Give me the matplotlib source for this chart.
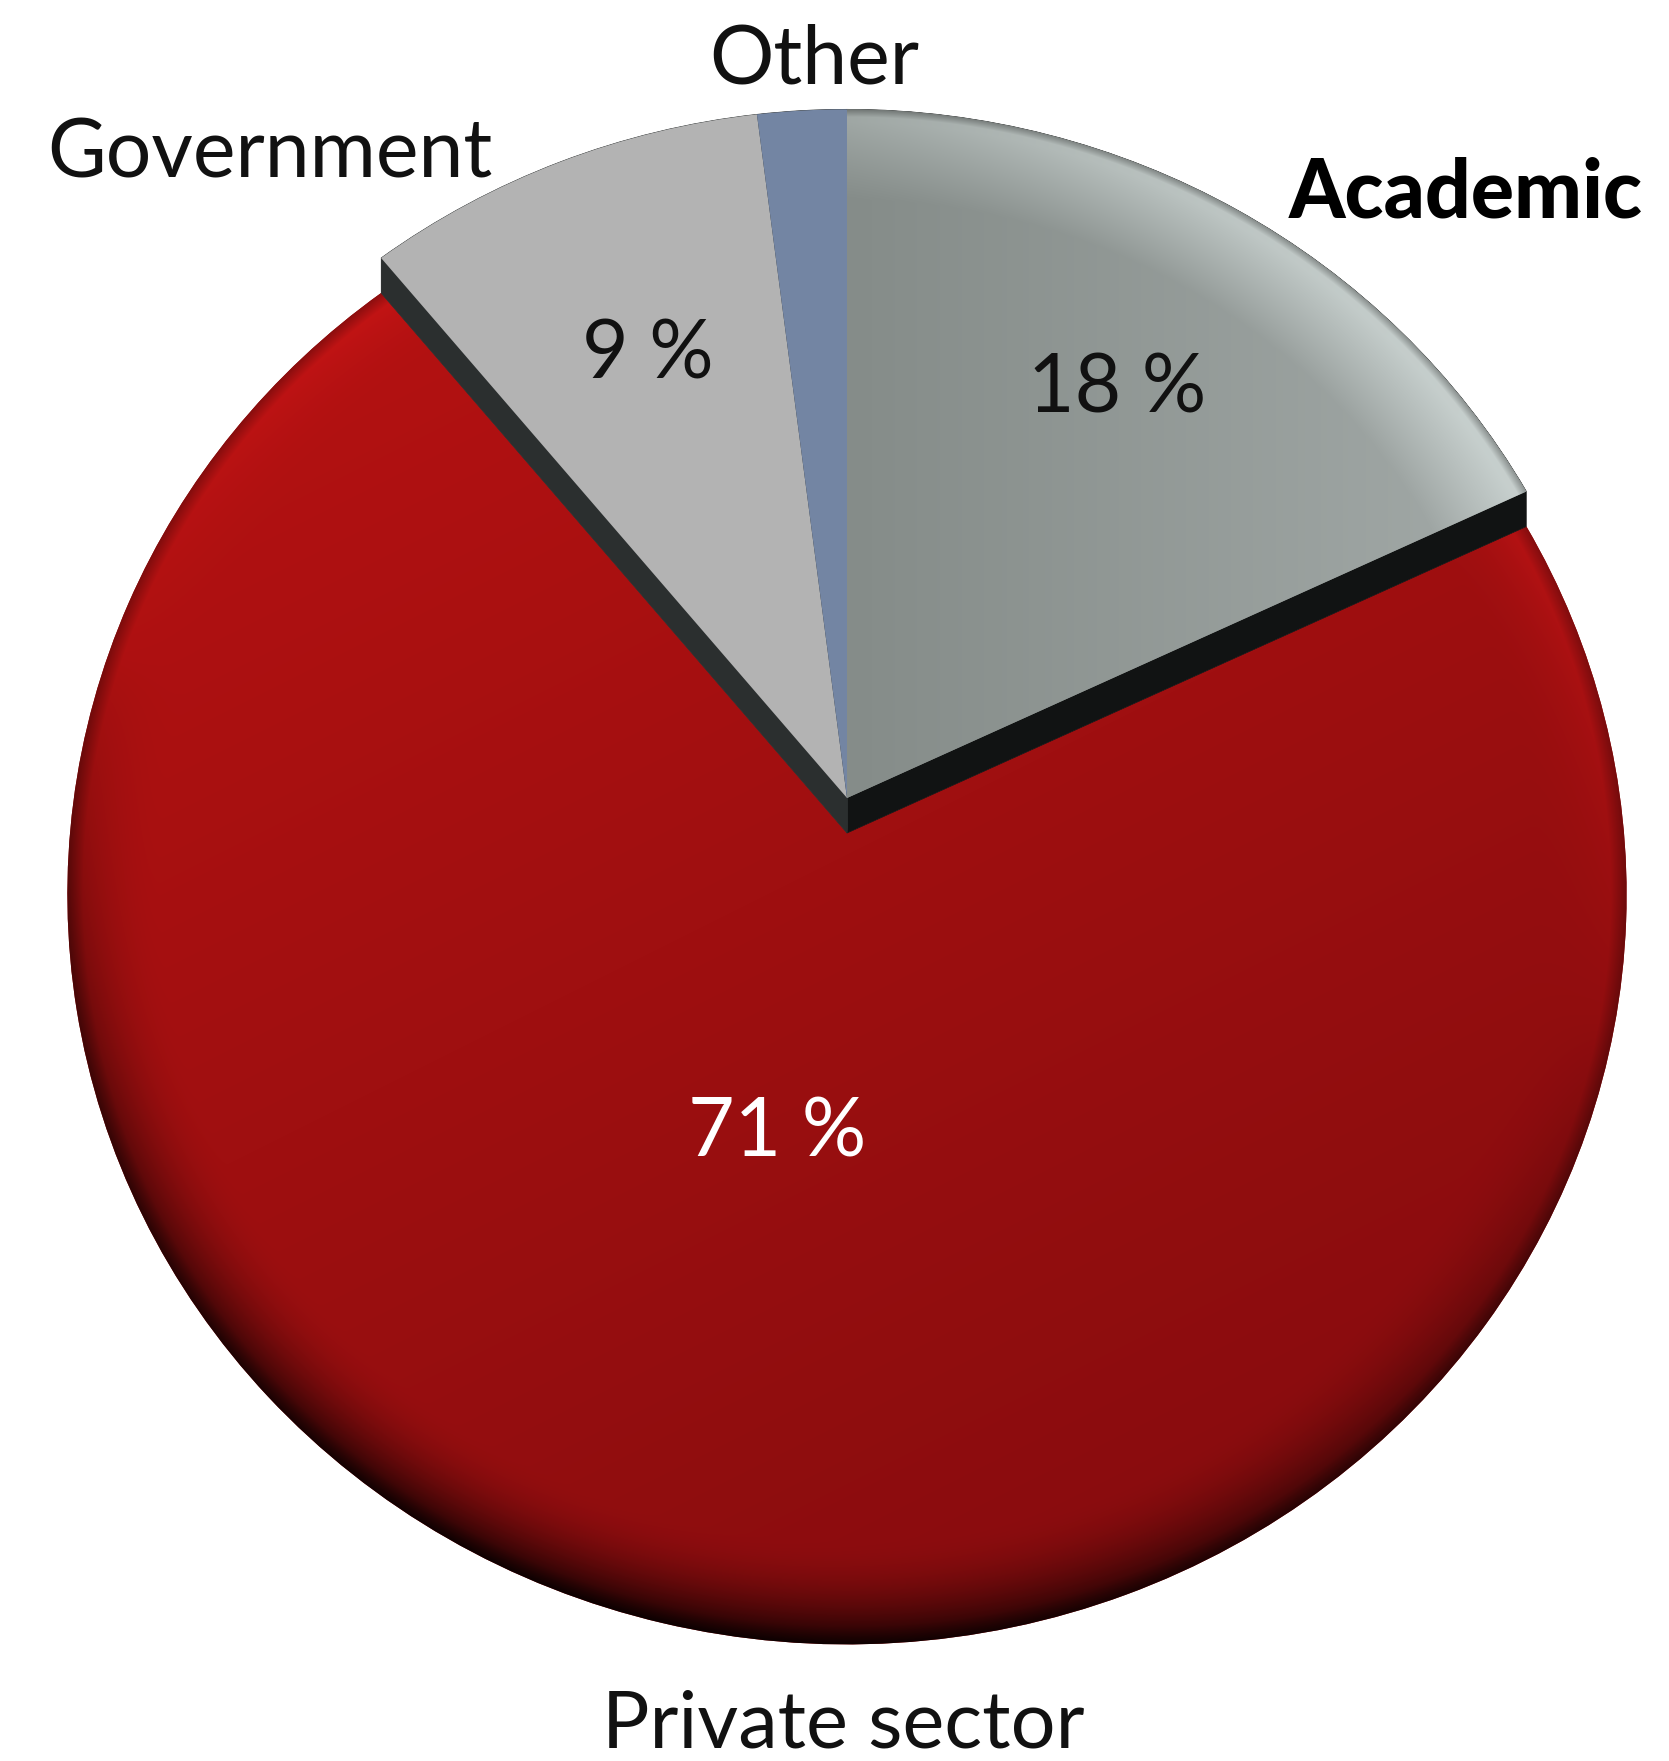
import numpy as np
import matplotlib
matplotlib.use("Agg")
import matplotlib.pyplot as plt
from matplotlib.patches import Wedge
from matplotlib.transforms import Transform
from matplotlib.colors import to_rgb

# data
categories = ["Academic", "Private sector", "Government", "Other"]
shares = [18, 71, 9, 2]
pct_labels = ["18 %", "71 %", "9 %", ""]
raised = [True, False, True, True]

W, H = 1669, 1761
CX, CY = 847, 833          # apex of the pie, in pixels
A, B, K = 777, 745, 0.0818  # perspective tilt of the disc
LIFT = 35                  # height of the raised slices


class Tilt(Transform):
    """unit disc (y up) -> pixel coords, seen a bit from below"""
    input_dims = 2
    output_dims = 2
    is_separable = False
    has_inverse = False

    def __init__(self, cx, cy):
        super().__init__()
        self.cx = cx
        self.cy = cy

    def transform_non_affine(self, xy):
        xy = np.asarray(xy, dtype=float)
        x, y = xy[:, 0], xy[:, 1]
        d = 1 + K * y
        return np.column_stack([self.cx + A * x / d, self.cy - B * y / d])


def plane_coords(cx, cy):
    u = px - cx
    v = cy - py
    y = v / (B - K * v)
    x = u * (1 + K * y) / A
    return x, y


def mix(c1, c2, t):
    c1 = np.array(to_rgb(c1))
    c2 = np.array(to_rgb(c2))
    t = np.asarray(t)[..., None]
    return c1 * (1 - t) + c2 * t


py, px = np.mgrid[0:H, 0:W] + 0.5

# slice angles, clockwise from 12 o'clock
angles = []
a = 90.0
for s in shares:
    sweep = s / sum(shares) * 360
    angles.append((a - sweep, a))
    a -= sweep

fig = plt.figure(figsize=(W / 100, H / 100), dpi=100)
ax = fig.add_axes([0, 0, 1, 1])
ax.set_autoscale_on(False)
ax.set_xlim(0, W)
ax.set_ylim(H, 0)
ax.axis("off")

face = {"Academic": "#8a918e", "Private sector": "#a00f10",
        "Government": "#b3b3b3", "Other": "#7385a3"}
side = {"Academic": "#111313", "Government": "#2b2f2f", "Other": "#2b2f2f"}

# red slice with shading
i = categories.index("Private sector")
red = Wedge((0, 0), 1, angles[i][0], angles[i][1], facecolor=face["Private sector"],
            edgecolor="none", transform=Tilt(CX, CY) + ax.transData, zorder=1)
ax.add_patch(red)
x, y = plane_coords(CX, CY)
r = np.hypot(x, y) + 1e-9
t = np.clip((px * 0.45 + py * 0.9 - 300) / 1700, 0, 1)
img = mix("#b81212", "#860c0e", t)
s = np.clip((r - 0.88) / 0.12, 0, 1) ** 2
shade = (x * 0.25 + y * 0.97) / r
light = np.clip(shade, 0, 1) * s
dark = np.clip(-shade, 0, 1) * s
img = img * (1 - light[..., None] * 0.6) + np.array(to_rgb("#ec1a1c")) * light[..., None] * 0.6
img = img * (1 - dark[..., None] * 0.88)
edge = np.clip((r - 0.98) / 0.02, 0, 1)
img = img * (1 - 0.3 * edge[..., None])
im = ax.imshow(np.clip(img, 0, 1), extent=(0, W, H, 0), origin="upper",
               interpolation="bilinear", zorder=1.1)
im.set_clip_path(red)

# side walls of the raised slices
for cat, (t1, t2), up in zip(categories, angles, raised):
    if not up:
        continue
    for d in range(0, LIFT + 1):
        ax.add_patch(Wedge((0, 0), 1, t1, t2, facecolor=side[cat], edgecolor=side[cat],
                           linewidth=0.5, transform=Tilt(CX, CY - d) + ax.transData,
                           zorder=2))

# top faces of raised slices
top = Tilt(CX, CY - LIFT) + ax.transData
xg, yg = plane_coords(CX, CY - LIFT)
rg = np.hypot(xg, yg) + 1e-9
for cat, (t1, t2), up in zip(categories, angles, raised):
    if not up:
        continue
    w = Wedge((0, 0), 1, t1, t2, facecolor=face[cat], edgecolor="none",
              transform=top, zorder=3)
    ax.add_patch(w)
    if cat == "Academic":
        g = mix("#858c89", "#a2a9a7", np.clip((px - 850) / 650, 0, 1))
        sg = np.clip((rg - 0.86) / 0.12, 0, 1)
        sh = np.clip((xg * 0.9 + yg * 0.45) / rg, 0, 1)
        hl = (sg * sh)[..., None]
        g = g * (1 - hl * 0.75) + np.array(to_rgb("#d2dbd9")) * hl * 0.75
        e = np.clip((rg - 0.988) / 0.012, 0, 1)[..., None]
        g = g * (1 - e * 0.3)
        gi = ax.imshow(np.clip(g, 0, 1), extent=(0, W, H, 0), origin="upper",
                       interpolation="bilinear", zorder=3.1)
        gi.set_clip_path(w)

# percentage labels
label_r = {True: 0.68, False: 0.40}
for cat, (t1, t2), up, lab in zip(categories, angles, raised, pct_labels):
    if not lab:
        continue
    mid = np.deg2rad((t1 + t2) / 2)
    rr = label_r[up]
    tr = Tilt(CX, CY - LIFT) if up else Tilt(CX, CY)
    lx, ly = tr.transform([[rr * np.cos(mid), rr * np.sin(mid)]])[0]
    ax.text(lx, ly, lab, ha="center", va="center", fontsize=58, family="Lato",
            color="white" if cat == "Private sector" else "#111111", zorder=5)

# category labels
ax.text(814, 83, "Other", ha="center", va="baseline", fontsize=58, family="Lato",
        color="#111111")
ax.text(270, 177, "Government", ha="center", va="baseline", fontsize=58, family="Lato",
        color="#111111")
ax.text(1466, 218, "Academic", ha="center", va="baseline", fontsize=58, family="Lato",
        fontweight="black", color="#000000")
ax.text(843, 1748, "Private sector", ha="center", va="baseline", fontsize=57, family="Lato",
        color="#111111")

fig.savefig("out.png", dpi=100, facecolor="white")
